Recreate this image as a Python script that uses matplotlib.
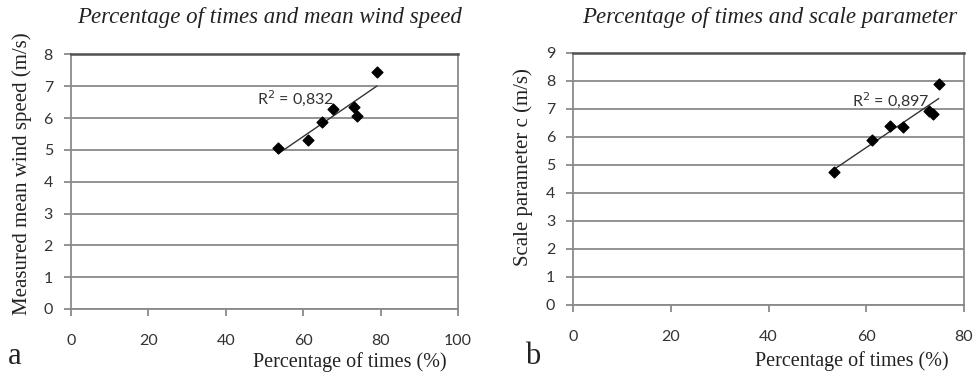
import numpy as np
import matplotlib
matplotlib.use('Agg')
import matplotlib.pyplot as plt

# 数据
pct_a = [53.6, 61.2, 64.9, 67.6, 73.0, 73.8, 79.0]
wind_a = [5.05, 5.30, 5.87, 6.28, 6.34, 6.07, 7.44]
r2_a = 'R$^2$ = 0,832'

pct_b = [53.4, 61.2, 64.8, 67.6, 72.9, 73.7, 74.8]
scale_b = [4.76, 5.87, 6.40, 6.36, 6.92, 6.81, 7.90]
r2_b = 'R$^2$ = 0,897'

titles = ['Percentage of times and mean wind speed',
          'Percentage of times and scale parameter']
ylabels = ['Measured mean wind speed (m/s)', 'Scale parameter c (m/s)']
xlabel = 'Percentage of times (%)'

serif = ['Liberation Serif', 'DejaVu Serif']
sans = ['Lato', 'DejaVu Sans']

fig = plt.figure(figsize=(9.73, 3.75), dpi=100)
ax1 = fig.add_axes([0.073, 0.176, 0.3977, 0.679])
ax2 = fig.add_axes([0.5892, 0.1867, 0.4015, 0.6728])


def style_axes(ax, xmax, ymax):
    ax.set_xlim(0, xmax)
    ax.set_ylim(0, ymax)
    ax.set_xticks(np.arange(0, xmax + 1, 20))
    ax.set_yticks(np.arange(0, ymax + 1, 1))
    ax.yaxis.grid(True, color='#8a8a8a', linewidth=1.3)
    ax.set_axisbelow(True)
    for s in ['left', 'bottom', 'right']:
        ax.spines[s].set_color('#8a8a8a')
        ax.spines[s].set_linewidth(1.3)
    ax.spines['top'].set_color('#505050')
    ax.spines['top'].set_linewidth(1.8)
    ax.tick_params(axis='x', length=5, width=1.3, color='#8a8a8a', pad=13,
                   labelsize=11.5, labelcolor='#333333')
    ax.tick_params(axis='y', length=5, width=1.3, color='#8a8a8a', pad=8,
                   labelsize=11.5, labelcolor='#333333')
    for lab in ax.get_xticklabels() + ax.get_yticklabels():
        lab.set_family(sans)


def draw(ax, x, y, r2, tx, ty):
    x = np.array(x)
    y = np.array(y)
    k, b = np.polyfit(x, y, 1)
    xs = np.array([x.min(), x.max()])
    ax.plot(xs, k * xs + b, color='#333333', linewidth=1.0, zorder=3)
    ax.scatter(x, y, marker='D', s=30, color='black', zorder=4)
    ax.text(tx, ty, r2, fontsize=11.5, color='#333333', family=sans,
            va='center', ha='left')


draw(ax1, pct_a, wind_a, r2_a, 48.0, 6.63)
draw(ax2, pct_b, scale_b, r2_b, 57.0, 7.31)
style_axes(ax1, 100, 8)
style_axes(ax2, 80, 9)

# 标题和坐标轴标签
fig.text(270 / 973, 1 - 18 / 375, titles[0], ha='center', va='center',
         fontsize=16.5, style='italic', family=serif, color='#222222')
fig.text(770 / 973, 1 - 18 / 375, titles[1], ha='center', va='center',
         fontsize=16.5, style='italic', family=serif, color='#222222')
fig.text(22 / 973, 1 - 174 / 375, ylabels[0], ha='center', va='center',
         rotation=90, fontsize=15, family=serif, color='#222222')
fig.text(523 / 973, 1 - 167 / 375, ylabels[1], ha='center', va='center',
         rotation=90, fontsize=15, family=serif, color='#222222')
fig.text(350 / 973, 1 - 362 / 375, xlabel, ha='center', va='center',
         fontsize=14.5, family=serif, color='#222222')
fig.text(852 / 973, 1 - 361 / 375, xlabel, ha='center', va='center',
         fontsize=14.5, family=serif, color='#222222')
fig.text(15 / 973, 1 - 357 / 375, 'a', ha='center', va='center',
         fontsize=22, family=serif, color='#222222')
fig.text(533 / 973, 1 - 357 / 375, 'b', ha='center', va='center',
         fontsize=22, family=serif, color='#222222')

fig.savefig('out.png', dpi=100)
